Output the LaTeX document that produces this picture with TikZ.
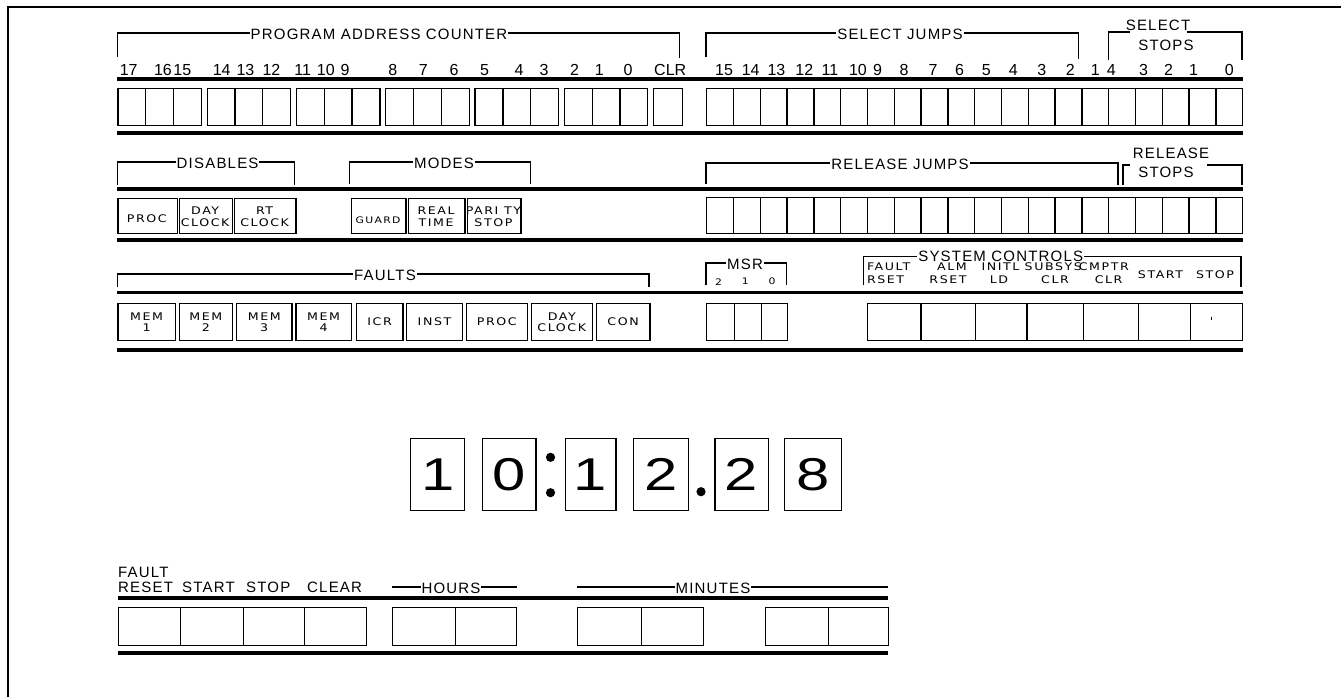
\documentclass[tikz,border=0pt]{standalone}
\usepackage{fontspec}
\setmainfont{Liberation Sans}
\newfontfamily\hdrf[LetterSpace=8]{Liberation Sans}
\newfontfamily\btnf[FakeStretch=1.2,LetterSpace=15]{DejaVu Sans}
\newfontfamily\digf[FakeStretch=1.3]{Liberation Sans}
\begin{document}
\begin{tikzpicture}[x=1pt,y=-1pt,
  thk/.style={line width=3.5pt},
  brk/.style={line width=1.1pt},
  cell/.style={draw, line width=1.3pt, anchor=north west, inner sep=0pt},
  ttl/.style={font=\hdrf\fontsize{15}{15}\selectfont, fill=white, inner xsep=1pt, inner ysep=0.5pt},
  lbl/.style={font=\hdrf\fontsize{15}{15}\selectfont, inner sep=0pt},
  num/.style={font=\fontsize{16}{16}\selectfont, inner sep=0pt},
  btn/.style={font=\btnf\fontsize{10.5}{11.5}\selectfont, align=center, inner sep=0pt},
  scl/.style={font=\btnf\fontsize{10.5}{11}\selectfont, inner sep=0pt},
  dig/.style={font=\digf\fontsize{46}{46}\selectfont, inner sep=0pt}]
\useasboundingbox (0,0) rectangle (1341,697);
\fill[white] (0,0) rectangle (1341,697);
\draw[line width=2pt] (8,697) -- (8,7) -- (1341,7);

% ---------- Row 1 ----------
\draw[brk] (117.2,57) -- (117.2,33) -- (679.8,33) -- (679.8,58);
\node[ttl] (tpac) at (379,34) {PROGRAM ADDRESS COUNTER};
\draw[brk] (706,57) -- (706,33) -- (1078.6,33) -- (1078.6,59);
\node[ttl] (tsj) at (900,34) {SELECT JUMPS};
\draw[brk] (1108.6,60) -- (1108.6,32) -- (1130,32);
\draw[brk] (1187,32) -- (1242,32) -- (1242,60);
\node[lbl] (tss1) at (1158,25) {SELECT};
\node[lbl] (tss2) at (1166,45) {STOPS};

\foreach \x/\t [count=\k] in {128.7/17, 163/16, 182.3/15, 221.7/14, 245.4/13, 271.4/12, 302.8/11, 325.8/10, 345/9, 392.7/8, 423.4/7, 454/6, 484.6/5, 519/4, 544/3, 574.5/2, 599.4/1, 628/0, 670.2/CLR}
  \node[num] (pn\k) at (\x,70) {\t};
\foreach \x/\t [count=\k] in {724/15, 750.7/14, 776.4/13, 804.3/12, 830/11, 857.9/10, 877.5/9, 904/8, 933/7, 959.6/6, 986.4/5, 1013.2/4, 1041.8/3, 1070.4/2, 1095.4/1, 1111.4/4, 1143.6/3, 1168.6/2, 1193.6/1, 1229.3/0}
  \node[num] (sn\k) at (\x,70) {\t};

\draw[thk] (117,79) -- (1243,79);
\foreach \g in {0,...,5}
  \foreach \i in {0,1,2}
    \node[cell, minimum width=27.8pt, minimum height=37pt] (pa\g\i) at ({117.2+89.3*\g+27.8*\i},88) {};
\node[cell, minimum width=28.7pt, minimum height=37pt] (pclr) at (653,88) {};
\foreach \i in {0,...,19}
  \node[cell, minimum width=26.8pt, minimum height=37pt] (sj\i) at ({706+26.8*\i},88) {};
\draw[thk] (117,133) -- (1243,133);

% ---------- Row 2 ----------
\draw[brk] (117.2,185) -- (117.2,162) -- (294.4,162) -- (294.4,185);
\node[ttl] (tdis) at (217.6,163) {DISABLES};
\draw[brk] (349.5,184) -- (349.5,162) -- (530.5,162) -- (530.5,184);
\node[ttl] (tmod) at (444,163) {MODES};
\draw[brk] (706,184) -- (706,163) -- (1118,163) -- (1118,185);
\node[ttl] (trj) at (900,164) {RELEASE JUMPS};
\draw[brk] (1123,185) -- (1123,165) -- (1130,165);
\draw[brk] (1207,165) -- (1242,165) -- (1242,185);
\node[lbl] (trs1) at (1171,153) {RELEASE};
\node[lbl] (trs2) at (1166,172) {STOPS};

\draw[thk] (117,189) -- (1243,189);
\node[cell, minimum width=59.3pt, minimum height=35pt] (b21) at (117.2,198) {};
\node[cell, minimum width=53.5pt, minimum height=35pt] (b22) at (178.5,198) {};
\node[cell, minimum width=61.2pt, minimum height=35pt] (b23) at (234,198) {};
\node[cell, minimum width=54.7pt, minimum height=35pt] (b24) at (350.7,198) {};
\node[cell, minimum width=56.3pt, minimum height=35pt] (b25) at (408,198) {};
\node[cell, minimum width=53.6pt, minimum height=35pt] (b26) at (466.6,198) {};
\node[btn] (l21) at (146.8,219) {PROC};
\node[btn] (l22) at (205.2,216.5) {DAY\\CLOCK};
\node[btn] (l23) at (264.6,216.5) {RT\\CLOCK};
\node[btn, font=\btnf\fontsize{9}{10}\selectfont] (l24) at (378,220) {GUARD};
\node[btn] (l25) at (436.1,216.5) {REAL\\TIME};
\node[btn] (l26) at (493.4,216.5) {PARI TY\\STOP};
\foreach \i in {0,...,19}
  \node[cell, minimum width=26.8pt, minimum height=36pt] (rj\i) at ({706+26.8*\i},197) {};
\draw[thk] (117,240) -- (1243,240);

% ---------- Row 3 ----------
\draw[brk] (117.2,287) -- (117.2,274) -- (649,274) -- (649,287);
\node[ttl] (tflt) at (385,275) {FAULTS};
\draw[brk] (706,285) -- (706,263) -- (786.4,263) -- (786.4,285);
\node[ttl] (tmsr) at (745,264) {MSR};
\node[scl, font=\btnf\fontsize{9}{10}\selectfont] (m2) at (718.6,281.7) {2};
\node[scl, font=\btnf\fontsize{9}{10}\selectfont] (m1) at (745.4,281.7) {1};
\node[scl, font=\btnf\fontsize{9}{10}\selectfont] (m0) at (772,281.7) {0};
\draw[brk] (863.2,285) -- (863.2,256.7) -- (1241,256.7) -- (1241,286.7);
\node[ttl] (tsc) at (1000.7,256) {SYSTEM CONTROLS};
\node[scl, anchor=west] (s1a) at (866.8,267) {FAULT};
\node[scl, anchor=west] (s1b) at (866.8,280) {RSET};
\node[scl] (s2a) at (952,267) {ALM};
\node[scl] (s2b) at (948,280) {RSET};
\node[scl] (s3a) at (1000.5,267) {INITL};
\node[scl] (s3b) at (999,280) {LD};
\node[scl, anchor=west] (s4a) at (1024.5,267) {SUBSYS};
\node[scl] (s4b) at (1055,280) {CLR};
\node[scl, anchor=east] (s5a) at (1129,267) {CMPTR};
\node[scl] (s5b) at (1108.6,280) {CLR};
\node[scl] (s6) at (1160.5,275) {START};
\node[scl] (s7) at (1215,275) {STOP};

\draw[thk] (117,292.7) -- (1243,292.7);
\foreach \x/\w/\t [count=\k] in {117.2/57.4/{MEM\\1}, 178.5/53.5/{MEM\\2}, 235.9/55.4/{MEM\\3}, 295.2/55.5/{MEM\\4}, 355.6/46.7/ICR, 406.1/55.5/INST, 465.5/61.2/PROC, 530.5/61.3/{DAY\\CLOCK}, 595.6/53.6/CON}
{
  \node[cell, minimum width=\w pt, minimum height=37pt] (f\k) at (\x,303) {};
  \node[btn] (fl\k) at (f\k.center) {\t};
}
\foreach \x/\w [count=\k] in {706/27.6, 733.6/27.1, 760.7/26.3}
  \node[cell, minimum width=\w pt, minimum height=37pt] (ms\k) at (\x,303) {};
\foreach \x/\w [count=\k] in {866.8/53.6, 920.4/54.2, 974.6/51.8, 1026.4/56.5, 1082.9/54.6, 1137.5/52.5, 1190/52}
  \node[cell, minimum width=\w pt, minimum height=37pt] (sc\k) at (\x,303) {};
\draw[line width=0.8pt] (1211.4,316.5) -- (1211.4,319.5);
\draw[thk] (117,350) -- (1243,350);

% ---------- Clock ----------
\foreach \x/\w/\d [count=\k] in {410.2/54/1, 482/53.4/0, 564.5/50.8/1, 632.9/55.1/2, 714.3/53.3/2, 783.7/56.8/8}
{
  \node[cell, line width=1.2pt, minimum width=\w pt, minimum height=72pt] (d\k) at (\x,438) {};
  \node[dig] (dt\k) at (d\k.center) {\d};
}
\fill (550.5,457.3) circle (4.6);
\fill (550.5,492.7) circle (4.6);
\fill (701,491.7) circle (4.6);

% ---------- Bottom ----------
\node[lbl, anchor=west] (bf) at (118,572) {FAULT};
\node[lbl, anchor=west] (br) at (118,587) {RESET};
\node[lbl, anchor=west] (bs) at (182,587) {START};
\node[lbl, anchor=west] (bp) at (246,587) {STOP};
\node[lbl, anchor=west] (bc) at (307,587) {CLEAR};
\draw[brk] (392,587) -- (517,587);
\node[ttl] (bh) at (451,588) {HOURS};
\draw[brk] (577,587) -- (888,587);
\node[ttl] (bm) at (713,588) {MINUTES};
\draw[thk] (118,598) -- (888,598);
\foreach \x/\w [count=\k] in {118/62, 180/63, 243/61, 304/62, 392/63, 455/61, 577/64, 641/62, 765/63, 828/60}
  \node[cell, minimum width=\w pt, minimum height=38pt] (bb\k) at (\x,607) {};
\draw[thk] (118,653) -- (888,653);
\end{tikzpicture}
\end{document}
